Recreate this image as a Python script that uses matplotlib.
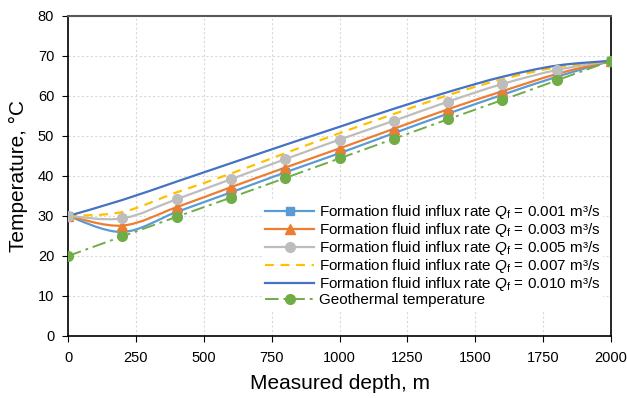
import numpy as np
import matplotlib
matplotlib.use('Agg')
import matplotlib.pyplot as plt
from matplotlib.path import Path
from matplotlib.patches import PathPatch
from matplotlib.lines import Line2D

plt.rcParams['font.family'] = ['Liberation Sans', 'DejaVu Sans']
plt.rcParams['mathtext.fontset'] = 'custom'
plt.rcParams['mathtext.rm'] = 'Liberation Sans'
plt.rcParams['mathtext.it'] = 'Liberation Sans:italic'

# depth points (m)
depth = [0, 200, 400, 600, 800, 1000, 1200, 1400, 1600, 1800, 2000]

# temperatures (deg C)
t_q001 = [30, 26.0, 31.0, 35.9, 40.9, 45.7, 50.7, 55.6, 60.3, 64.8, 68.8]
t_q003 = [30, 27.6, 32.2, 37.2, 42.1, 46.9, 51.8, 56.7, 61.2, 65.5, 68.8]
t_q005 = [30, 29.4, 34.2, 39.2, 44.2, 49.1, 53.8, 58.6, 63.0, 66.5, 68.8]
t_q007 = [30, 31.0, 35.9, 40.6, 45.7, 50.7, 55.5, 60.2, 64.2, 67.2, 68.8]
t_q010 = [30, 34.0, 38.6, 43.2, 47.8, 52.3, 56.8, 61.0, 64.8, 67.6, 68.8]
t_geo = [20, 24.9, 29.8, 34.6, 39.5, 44.4, 49.3, 54.2, 59.0, 63.9, 68.8]

rates = ['0.001', '0.003', '0.005', '0.007', '0.010']


def smooth_path(x, y):
    # Excel-like smoothed line: cubic Bezier segments (Catmull-Rom tangents)
    x = np.asarray(x, float)
    y = np.asarray(y, float)
    n = len(x)
    verts = [(x[0], y[0])]
    codes = [Path.MOVETO]
    for i in range(n - 1):
        x0, y0 = (x[i - 1], y[i - 1]) if i > 0 else (x[i], y[i])
        x3, y3 = (x[i + 2], y[i + 2]) if i + 2 < n else (x[i + 1], y[i + 1])
        c1 = (x[i] + (x[i + 1] - x0) / 6, y[i] + (y[i + 1] - y0) / 6)
        c2 = (x[i + 1] - (x3 - x[i]) / 6, y[i + 1] - (y3 - y[i]) / 6)
        verts += [c1, c2, (x[i + 1], y[i + 1])]
        codes += [Path.CURVE4] * 3
    return Path(verts, codes)


fig = plt.figure(figsize=(6.27, 3.98), dpi=100)
ax = fig.add_axes([0.1085, 0.1558, 0.866, 0.804])

series = [
    (t_q001, '#5B9BD5', '-', 's', 6),
    (t_q003, '#ED7D31', '-', '^', 7),
    (t_q005, '#BDBDBD', '-', 'o', 7),
    (t_q007, '#FFC000', (0, (4, 3)), None, 0),
    (t_q010, '#4472C4', '-', None, 0),
]

handles = []
labels = []
for (vals, col, ls, mk, ms), q in zip(series, rates):
    ax.add_patch(PathPatch(smooth_path(depth, vals), fill=False, edgecolor=col,
                           lw=1.6, linestyle=ls, zorder=3))
    if mk:
        ax.plot(depth, vals, linestyle='none', marker=mk, ms=ms, color=col, zorder=4)
    handles.append(Line2D([], [], color=col, lw=1.6, linestyle=ls, marker=mk, ms=ms))
    labels.append('Formation fluid influx rate $Q_\\mathrm{f}$ = ' + q + ' m³/s')

ax.plot(depth, t_geo, color='#70AD47', lw=1.4, linestyle=(0, (7, 2.5, 1.5, 2.5)),
        marker='o', ms=7, zorder=5)
handles.append(Line2D([], [], color='#70AD47', lw=1.4, linestyle=(0, (7, 2.5, 1.5, 2.5)),
                      marker='o', ms=7))
labels.append('Geothermal temperature')

ax.set_xlim(0, 2000)
ax.set_ylim(0, 80)
ax.set_xticks(np.arange(0, 2001, 250))
ax.set_yticks(np.arange(0, 81, 10))
ax.grid(True, color='#D9D9D9', linestyle=(0, (2, 2)), lw=0.8)
ax.set_axisbelow(True)
ax.tick_params(direction='out', length=4, labelsize=10.5, colors='black')
ax.tick_params(axis='x', pad=7)
ax.tick_params(axis='y', pad=6)
ax.set_xlabel('Measured depth, m', fontsize=15, labelpad=6)
ax.set_ylabel('Temperature, °C', fontsize=15, labelpad=7)
for s in ['left', 'bottom', 'right']:
    ax.spines[s].set_color('black')
    ax.spines[s].set_linewidth(1.2)
ax.spines['top'].set_color('#595959')
ax.spines['top'].set_linewidth(1.5)

leg = ax.legend(handles, labels, loc='lower right', bbox_to_anchor=(1.0, 0.056),
                fontsize=11, frameon=True, framealpha=1, edgecolor='none',
                handlelength=3.2, handletextpad=0.3, labelspacing=0.0,
                borderpad=0.2, fancybox=False)
leg.get_frame().set_linewidth(0)

fig.savefig('out.png', dpi=100)
